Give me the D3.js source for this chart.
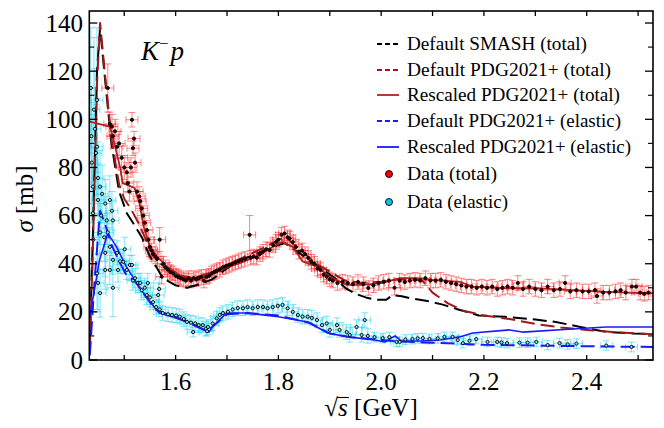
<!DOCTYPE html>
<html><head><meta charset="utf-8">
<script src="https://cdn.jsdelivr.net/npm/d3@7"></script>
<style>
body{margin:0;background:#fff}
svg{display:block}
text{font-family:"Liberation Serif","DejaVu Serif","Times New Roman",serif;fill:#000}
</style>
</head><body>
<svg id="c" width="664" height="428"></svg>
<script>
// ---------- data ----------
const xTicks = [1.5,1.6,1.7,1.8,1.9,2.0,2.1,2.2,2.3,2.4,2.5];
const xTickLabels = ["1.6","1.8","2.0","2.2","2.4"];
const xLabelValues = [1.6,1.8,2.0,2.2,2.4];
const yTicksMajor = [0,20,40,60,80,100,120,140];
const yTicksMinor = [10,30,50,70,90,110,130];

// Default SMASH (total)
const smashS     = [1.433,1.440,1.447,1.453,1.462,1.475,1.490,1.505,1.517,1.535,1.550,1.562,1.575,1.600,1.622,1.647,1.671,1.693,1.720,1.750,1.780,1.800,1.813,1.830,1.850,1.870,1.890,1.910,1.930,1.950,1.970,1.990,2.010,2.022,2.040,2.060,2.090,2.120,2.150,2.190,2.240,2.300,2.340,2.390,2.440,2.490,2.529];
const smashSigma = [8,60,120,138,118,90,70,61,57,50.7,43,38.8,34,31,30,31.5,33.5,37,41,43.5,46,47.8,48.6,46,43,40,37,34,30,27.5,26,25,25,27,26.5,25.5,24.5,23,21,18.5,18,16.8,15.8,13.6,11.6,11,10.8];

// Default PDG2021+ (total)
const pdgTotS     = [1.433,1.440,1.447,1.453,1.462,1.475,1.490,1.500,1.515,1.530,1.550,1.570,1.590,1.610,1.630,1.650,1.670,1.690,1.720,1.750,1.780,1.800,1.815,1.830,1.850,1.870,1.890,1.910,1.930,1.960,2.000,2.030,2.060,2.080,2.100,2.130,2.160,2.200,2.250,2.300,2.350,2.400,2.450,2.500,2.529];
const pdgTotSigma = [4,55,115,140,120,92,73,67,62,56,46,40,37,34.5,34,35,36.5,38.5,41.5,44.5,47.5,50,51,48,44.5,40.5,38,35.5,33,32,32.5,33.5,33.5,33,28,23.5,20.5,18.5,17,15,13.5,12.5,11.6,11,10.7];

// Rescaled PDG2021+ (total)
const resTotS     = [1.433,1.472,1.478,1.492,1.497,1.520,1.530,1.537,1.550,1.564,1.583,1.608,1.634,1.661,1.686,1.725,1.764,1.777,1.808,1.828,1.847,1.875,1.900,1.933,1.964,2.003,2.036,2.069,2.100,2.153,2.178,2.244,2.308,2.372,2.438,2.529];
const resTotSigma = [99,97,92.5,80,73.5,71.5,65,56,47,43,38.8,35.3,34,34.4,37.4,40.2,43.7,45.7,49,47,41,38.8,34.6,31.2,31.2,32,34,34,33.3,32.5,30.5,29.8,29.8,29,28.3,27.7];

// Default PDG2021+ (elastic)
const pdgElS     = [1.433,1.443,1.453,1.462,1.475,1.490,1.505,1.520,1.540,1.560,1.590,1.620,1.660,1.670,1.700,1.740,1.800,1.860,1.900,1.940,1.990,2.030,2.080,2.150,2.200,2.300,2.400,2.529];
const pdgElSigma = [2,35,62,57,48,41,35,33,27,21,18.5,16,12,13.5,19,19.5,18.5,15.5,11,9.5,8.5,7.8,7.3,6.8,6.3,6,5.7,5.4];

// Rescaled PDG2021+ (elastic)
const resElS     = [1.433,1.452,1.468,1.485,1.504,1.529,1.543,1.568,1.593,1.626,1.665,1.671,1.699,1.738,1.800,1.857,1.896,1.935,1.988,2.007,2.027,2.039,2.078,2.114,2.153,2.178,2.250,2.275,2.372,2.438,2.529];
const resElSigma = [18,41.6,52.6,47,38.8,30.4,26.2,19.5,18,15.8,11.6,13.7,19.5,19.5,18,15.8,11.2,9.6,8.3,7.5,10,7.9,7.9,8.3,9.6,11.2,12.5,11.6,12.9,13.7,13.7];

// Data (total)
const dataTotS = [1.468,1.472,1.476,1.478,1.482,1.486,1.490,1.495,1.500,1.505,1.507,1.510,1.513,1.515,1.517,1.519,1.521,1.525,1.529,1.531,1.534,1.537,1.540,1.544,1.547,1.550,1.553,1.556,1.560,1.564,1.569,1.573,1.576,1.580,1.585,1.590,1.595,1.600,1.605,1.610,1.615,1.620,1.625,1.630,1.635,1.640,1.645,1.650,1.655,1.660,1.665,1.670,1.675,1.680,1.686,1.692,1.698,1.704,1.710,1.716,1.722,1.728,1.735,1.744,1.746,1.752,1.758,1.764,1.770,1.776,1.783,1.790,1.796,1.800,1.806,1.812,1.818,1.822,1.828,1.834,1.840,1.846,1.852,1.858,1.864,1.870,1.876,1.882,1.888,1.894,1.900,1.906,1.915,1.925,1.935,1.945,1.955,1.965,1.975,1.985,1.995,2.005,2.015,2.026,2.036,2.046,2.056,2.066,2.076,2.086,2.096,2.106,2.116,2.126,2.136,2.146,2.156,2.166,2.176,2.186,2.196,2.206,2.216,2.226,2.236,2.246,2.256,2.266,2.276,2.288,2.300,2.312,2.324,2.336,2.348,2.358,2.368,2.380,2.392,2.404,2.416,2.420,2.432,2.444,2.456,2.466,2.476,2.488,2.496,2.504,2.512,2.520];
const dataTotSigma = [113,98,97,93,95,88.6,90,84,80,78,73.5,70,80,99.8,88,92,82,70,68,66,63,60,57,54,50,47,45.5,44,43,42,50,34.6,40,38.5,37.5,36.5,36,35,34.5,34,33.5,33,34,33,34,33.5,34,34.5,33,34.5,35,36,36.5,37,37.5,38.5,39,39.5,40,40.5,41,41.5,42,52,42.5,43,42.5,44,45,46,45.7,47.8,49,50,52,52.6,51,50.5,49,47,45,45.5,44,42.4,40.8,40,38,37.4,35.5,34.6,33.5,33,32,32.5,32,31.5,32.4,31.5,29.9,31,32,32.5,33,30,33,32.4,33,33.3,33,34,33,33,33.3,32.5,32,31.5,31,30.5,30.5,30,30.5,30,30.5,29.5,30,30.5,30,32,29.5,30.5,29.5,29,30.5,29,29.5,32,28.5,29,28.5,28.5,29,26.6,28,28,28.5,29,28,30.5,30.5,28,27.5,28];
const dataTotErr = [10,5,5,5,5,5,5,5,5,4,4,4,4,3,3,3,4,4,4,4,4,4,4,4,4,4,3,3,3,3,5,3,3,3,3,3,3,3,3,3,3,3,3,3,3,3,3,3,3,3,3,3,3,3,3,3,3,3,3,3,3,3,3,8,3,3,3,3,3,3,3,3,3,3,3,3,3,3,3,3,3,3,3,3,3,3,3,3,3,3,3,3,3,3,3,3,3,3,3,3,3,3,3,3,3,3,3,3,3,3,3,3,3,3,3,3,3,3,3,3,3,3,3,3,3,3,3,3,3,3,3,3,3,3,3,3,3,3,3,3,3,3,3,3,3,3,3,3,3,3,3,3];

// Data (elastic)
const dataElS = [1.435,1.436,1.437,1.439,1.439,1.440,1.441,1.443,1.445,1.447,1.447,1.447,1.449,1.449,1.449,1.453,1.453,1.453,1.455,1.457,1.461,1.463,1.463,1.463,1.466,1.468,1.472,1.472,1.472,1.476,1.478,1.478,1.478,1.486,1.488,1.492,1.498,1.501,1.505,1.511,1.515,1.517,1.521,1.527,1.531,1.534,1.540,1.544,1.546,1.550,1.556,1.562,1.566,1.568,1.569,1.575,1.585,1.593,1.601,1.608,1.616,1.622,1.630,1.634,1.638,1.645,1.653,1.659,1.661,1.663,1.672,1.680,1.686,1.692,1.702,1.711,1.721,1.731,1.740,1.750,1.760,1.770,1.779,1.789,1.799,1.808,1.818,1.828,1.838,1.847,1.857,1.865,1.875,1.885,1.894,1.900,1.914,1.919,1.933,1.939,1.952,1.962,1.968,1.974,1.987,2.003,2.016,2.030,2.036,2.047,2.061,2.071,2.081,2.094,2.110,2.123,2.139,2.149,2.159,2.172,2.185,2.207,2.226,2.234,2.245,2.269,2.285,2.302,2.324,2.347,2.363,2.380,2.438,2.487];
const dataElSigma = [113,93,82,72,61,50,104,96,86,108,88.6,36,75.6,66.5,32,72,53,27.8,60,69,51,65,44.5,37.4,58,53,66.5,47,37.4,62,58,41.6,30,44.5,37.4,41,40.8,46,37.4,39.5,39.5,33,34,32,32,29,30,27,32,26,24,22,27,29.5,21,19.5,19,18.7,18.5,18,17,15.8,15.5,11.6,15.2,14.5,14.5,13,12,13.7,15.2,17.3,18.7,19.5,20,21,21.6,21.5,22,21.5,22,22,21.5,22,22.5,22.9,21.5,20,18.7,18,18,17.5,16.6,14.5,15.2,12.5,14.5,12.5,11.6,10.4,13.7,10.4,16.6,10,9.5,9.1,9.5,7.5,7.5,8.5,8.7,9,9.1,8.7,9,9.6,9.6,8.3,7,8,8.7,7.5,7.5,7.3,7,7.2,7.2,7.5,6.2,7,6.5,6.8,6,5.4];
const dataElErr = [25,20,25,30,20,15,30,25,20,30,20,15,15,15,12,15,12,10,12,12,10,10,10,8,10,8,10,8,6,8,8,6,12,5,5,5,5,5,4,4,4,4,4,4,4,4,4,4,4,4,3,3,5,5,3,3,3,3,3,3,3,3,3,2,3,3,3,3,2,3,3,3,3,3,3,3,3,3,3,3,3,3,3,3,3,3,3,3,3,3,3,3,3,3,3,3,3,3,3,3,3,3,3,3,2,2,2,2,2,2,2,2,2,2,2,2,2,2,2,2,2,2,2,2,2,2,2,2,2,2,2,2,2,2];

const legendLabels = ["Default SMASH (total)","Default PDG2021+ (total)","Rescaled PDG2021+ (total)","Default PDG2021+ (elastic)","Rescaled PDG2021+ (elastic)","Data (total)","Data (elastic)"];

// ---------- layout / style ----------
const L = 89.3, R = 653, T = 11, B = 360;
const svg = d3.select("#c");
const x = d3.scaleLinear().domain([1.432, 2.529]).range([L, R]);
const y = d3.scaleLinear().domain([0, 145]).range([B, T]);

svg.append("defs").append("clipPath").attr("id","clip")
  .append("rect").attr("x",L).attr("y",T).attr("width",R-L).attr("height",B-T);

const plot = svg.append("g").attr("clip-path","url(#clip)");

function errBars(S, Sig, Err, color, op){
  const g = plot.append("g").attr("stroke", color).attr("stroke-opacity", op).attr("stroke-width", 0.9).attr("fill","none");
  g.selectAll("path").data(d3.range(S.length)).join("path").attr("d", i => {
    const cx = x(S[i]), cy = y(Sig[i]), y1 = y(Sig[i]-Err[i]), y2 = y(Sig[i]+Err[i]);
    const hw = 6, cw = 3.5;
    return `M${cx},${y1}V${y2}M${cx-cw},${y1}H${cx+cw}M${cx-cw},${y2}H${cx+cw}` +
           `M${cx-hw},${cy}H${cx+hw}M${cx-hw},${cy-cw}V${cy+cw}M${cx+hw},${cy-cw}V${cy+cw}`;
  });
}
errBars(dataElS, dataElSigma, dataElErr, "#1cd2f2", 0.65);
errBars(dataTotS, dataTotSigma, dataTotErr, "#ff1a1a", 0.6);

const line = d3.line().x(d => x(d[0])).y(d => y(d[1]));
const curves = [
  {S: smashS, V: smashSigma, color:"#000000", w:2.0, dash:"14,6"},
  {S: pdgTotS, V: pdgTotSigma, color:"#a01818", w:2.0, dash:"14,6"},
  {S: resTotS, V: resTotSigma, color:"#b22222", w:1.8, dash:null},
  {S: pdgElS, V: pdgElSigma, color:"#1a1aff", w:2.0, dash:"14,6"},
  {S: resElS, V: resElSigma, color:"#1a1aff", w:1.6, dash:null}
];
curves.forEach(c => {
  plot.append("path").datum(d3.zip(c.S, c.V)).attr("d", line)
    .attr("fill","none").attr("stroke", c.color).attr("stroke-width", c.w)
    .attr("stroke-dasharray", c.dash).attr("stroke-linejoin","round");
});

function markers(S, Sig, fill){
  plot.append("g").selectAll("circle").data(d3.range(S.length)).join("circle")
    .attr("cx", i => x(S[i])).attr("cy", i => y(Sig[i])).attr("r", 1.6)
    .attr("fill", fill).attr("stroke","#000").attr("stroke-width",0.9);
}
markers(dataElS, dataElSigma, "#7fe0f8");
markers(dataTotS, dataTotSigma, "#300000");

// ---------- axes ----------
const ax = svg.append("g").attr("stroke","#000");
ax.append("rect").attr("x",L).attr("y",T).attr("width",R-L).attr("height",B-T)
  .attr("fill","none").attr("stroke-width",1.6);
xTicks.forEach(v => {
  ax.append("line").attr("x1",x(v)).attr("x2",x(v)).attr("y1",B).attr("y2",B-5).attr("stroke-width",1.3);
  ax.append("line").attr("x1",x(v)).attr("x2",x(v)).attr("y1",T).attr("y2",T+5).attr("stroke-width",1.3);
});
yTicksMajor.forEach(v => {
  ax.append("line").attr("x1",L).attr("x2",L+8).attr("y1",y(v)).attr("y2",y(v)).attr("stroke-width",1.3);
  ax.append("line").attr("x1",R).attr("x2",R-8).attr("y1",y(v)).attr("y2",y(v)).attr("stroke-width",1.3);
});
yTicksMinor.forEach(v => {
  ax.append("line").attr("x1",L).attr("x2",L+5).attr("y1",y(v)).attr("y2",y(v)).attr("stroke-width",1.1);
  ax.append("line").attr("x1",R).attr("x2",R-5).attr("y1",y(v)).attr("y2",y(v)).attr("stroke-width",1.1);
});
xLabelValues.forEach((v,i) => {
  svg.append("text").attr("x", x(v)).attr("y", 390).attr("text-anchor","middle")
    .attr("font-size",25).text(xTickLabels[i]);
});
yTicksMajor.forEach(v => {
  svg.append("text").attr("x", 83).attr("y", y(v)+8.5).attr("text-anchor","end")
    .attr("font-size",25).text(String(v));
});

// axis titles
const yt = svg.append("text").attr("transform","translate(33,199) rotate(-90)")
  .attr("text-anchor","middle").attr("font-size",25);
yt.append("tspan").attr("font-style","italic").text("σ");
yt.append("tspan").text("\u00a0[mb]");

const xtG = svg.append("g");
const tRad = xtG.append("text").attr("y",416).attr("font-size",25).text("√");
const tS = xtG.append("text").attr("y",416).attr("font-size",25).attr("font-style","italic").text("s");
const tU = xtG.append("text").attr("y",416).attr("font-size",25).text("\u00a0[GeV]");
const wR = tRad.node().getComputedTextLength(), wS = tS.node().getComputedTextLength(), wU = tU.node().getComputedTextLength();
const tot = wR + wS + wU, x0 = (L+R)/2 - tot/2;
tRad.attr("x", x0); tS.attr("x", x0+wR); tU.attr("x", x0+wR+wS);
xtG.append("line").attr("x1", x0+wR-1).attr("x2", x0+wR+wS+1).attr("y1",397.5).attr("y2",397.5)
  .attr("stroke","#000").attr("stroke-width",1.1);

// K^- p label
const kp = svg.append("text").attr("x",141).attr("y",60).attr("font-size",27).attr("font-style","italic");
kp.append("tspan").text("K");
kp.append("tspan").attr("font-style","normal").attr("font-size",17).attr("dy",-11).text("−");
kp.append("tspan").attr("dy",11).attr("dx",2).text("p");

// ---------- legend ----------
const rows = [44,70,95,121,147,174,202];
const widths = [180,204,213,214,224,90,101];
const lg = svg.append("g");
const handles = [
  {type:"line", color:"#000000", dash:"5,3", w:1.8},
  {type:"line", color:"#a01818", dash:"5,3", w:1.8},
  {type:"line", color:"#b22222", dash:null, w:1.8},
  {type:"line", color:"#1a1aff", dash:"5,3", w:1.8},
  {type:"line", color:"#1a1aff", dash:null, w:1.8},
  {type:"dot", color:"#ff0000"},
  {type:"dot", color:"#12c0ee"}
];
handles.forEach((h,i) => {
  if (h.type === "line") {
    lg.append("line").attr("x1",377).attr("x2",399).attr("y1",rows[i]).attr("y2",rows[i])
      .attr("stroke",h.color).attr("stroke-width",h.w).attr("stroke-dasharray",h.dash);
  } else {
    lg.append("circle").attr("cx",389).attr("cy",rows[i]).attr("r",3.5)
      .attr("fill",h.color).attr("stroke","#000").attr("stroke-width",0.9);
  }
  lg.append("text").attr("x",407).attr("y",rows[i]+6).attr("font-size",19)
    .attr("textLength",widths[i]).attr("lengthAdjust","spacingAndGlyphs").text(legendLabels[i]);
});
</script>
</body></html>
